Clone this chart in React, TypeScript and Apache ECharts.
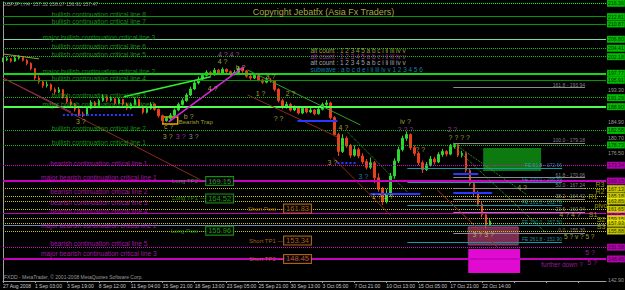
import React, { useEffect, useRef } from "react";
import * as echarts from "echarts";

const FONT = "'Liberation Sans', Arial, sans-serif";

// ---------- axis labels ----------
const dateLabels = [
  "27 Aug 2008", "1 Sep 03:00", "3 Sep 19:00", "8 Sep 12:00", "11 Sep 04:00", "15 Sep 21:00",
  "18 Sep 13:00", "23 Sep 05:00", "25 Sep 21:00", "30 Sep 13:00", "3 Oct 05:00", "7 Oct 21:00",
  "10 Oct 13:00", "15 Oct 05:00", "17 Oct 21:00", "22 Oct 14:00",
];
const yTickLabels = [
  142.9, 147.1, 151.3, 155.5, 159.7, 163.9, 168.1, 172.3, 176.5, 180.7, 184.9, 189.1,
  193.3, 197.5, 201.7, 205.9, 210.1, 214.3,
];

// ---------- price (8-hour candles) ----------
const firstOpen = 201.0;
const closes = [
  201.3, 201.6, 201.0, 201.8, 202.0, 201.2, 200.4, 199.0, 196.5, 195.5,
  194.5, 194.8, 193.5, 192.8, 193.4, 191.5, 190.2, 189.5, 188.2, 187.0,
  186.8, 188.5, 190.0, 189.2, 190.5, 191.5, 190.6, 191.0, 189.8, 190.8,
  189.6, 188.5, 189.5, 190.8, 189.0, 187.4, 188.4, 189.6, 188.2, 186.5,
  185.2, 185.8, 186.6, 188.0, 189.5, 190.5, 192.0, 193.6, 195.2, 196.2,
  197.2, 198.0, 197.4, 198.6, 197.8, 198.8, 198.2, 197.5, 198.0, 199.0,
  198.4, 197.0, 196.5, 197.2, 196.0, 195.4, 196.0, 195.8, 193.5, 190.5,
  188.8, 189.5, 188.0, 188.6, 187.2, 188.5, 187.5, 188.0, 187.0, 188.2,
  189.5, 189.9, 186.0, 181.5, 177.0, 180.5, 178.5, 176.0, 177.5, 175.8,
  174.3, 172.8, 174.0, 170.0, 167.0, 163.8, 165.5, 170.5, 174.5, 177.5,
  180.5, 181.5, 178.0, 176.5, 174.0, 172.2, 173.5, 175.0, 174.2, 176.2,
  177.0, 176.3, 178.3, 178.8, 176.0, 176.5, 172.0, 168.5, 166.0, 163.0,
  160.2, 157.5, 158.5,
];
const highs = [
  201.9, 202.2, 201.9, 202.3, 202.6, 202.2, 201.5, 200.7, 199.2, 197.2,
  196.0, 195.6, 195.1, 194.0, 194.1, 193.6, 192.0, 190.9, 189.8, 188.5,
  187.6, 189.0, 190.6, 190.4, 191.0, 192.2, 191.9, 191.6, 191.3, 191.3,
  191.0, 189.9, 190.0, 191.4, 191.0, 189.3, 188.9, 190.1, 189.8, 188.4,
  186.8, 186.4, 187.2, 188.4, 190.0, 191.1, 192.5, 194.2, 195.8, 196.9,
  197.8, 198.6, 198.4, 199.2, 198.9, 199.3, 199.1, 198.5, 198.6, 199.6,
  199.3, 198.6, 197.4, 197.7, 197.4, 196.3, 196.6, 196.5, 196.0, 193.8,
  191.0, 190.2, 189.9, 189.2, 188.9, 189.0, 188.8, 188.6, 188.3, 188.7,
  190.0, 190.7, 190.2, 186.4, 182.0, 181.6, 181.0, 179.0, 178.6, 178.0,
  176.5, 175.0, 175.4, 174.5, 171.2, 167.6, 167.0, 171.3, 175.2, 178.3,
  181.2, 182.3, 181.8, 178.6, 177.0, 174.6, 174.2, 175.8, 175.6, 176.8,
  177.7, 177.4, 179.0, 179.18, 179.0, 177.2, 176.8, 172.5, 169.2, 166.6,
  163.6, 160.8, 159.0,
];
const lows = [
  200.7, 201.0, 200.6, 200.8, 201.4, 200.9, 199.9, 198.6, 196.0, 195.0,
  193.9, 194.0, 193.0, 192.2, 192.5, 191.0, 189.7, 189.0, 187.6, 186.4,
  186.1, 186.5, 188.2, 188.7, 188.9, 190.2, 190.1, 190.2, 189.3, 189.5,
  189.2, 188.0, 188.2, 189.2, 188.6, 186.9, 187.1, 188.1, 187.8, 186.0,
  184.6, 184.9, 185.4, 186.3, 187.7, 189.2, 190.2, 191.7, 193.3, 194.8,
  195.9, 196.9, 196.9, 197.1, 197.3, 197.5, 197.7, 197.0, 197.2, 197.7,
  197.9, 196.6, 196.0, 196.2, 195.6, 194.9, 195.1, 195.3, 193.0, 190.0,
  188.2, 188.4, 187.6, 187.7, 186.8, 186.9, 187.1, 187.2, 186.6, 186.8,
  187.9, 189.1, 185.5, 181.0, 175.8, 176.6, 178.0, 175.3, 175.6, 175.2,
  173.7, 172.2, 172.3, 168.6, 166.3, 162.8, 163.2, 165.0, 169.8, 173.9,
  177.0, 179.8, 177.4, 175.8, 173.4, 171.3, 171.8, 173.0, 173.6, 173.9,
  175.6, 175.7, 176.0, 177.8, 175.5, 175.4, 171.4, 167.8, 165.2, 162.4,
  159.5, 156.6, 157.2,
];

// ---------- critical lines ----------
const bullishLevels = [216.36, 212.81, 210.87, 206.8, 204.41, 202.18, 197.77, 195.91, 191.29, 188.9, 182.58, 178.73];
const bullishNames = [
  "", "bullish continuation critical line 8", "bullish continuation critical line 7",
  "major bullish continuation critical line 3", "bullish continuation critical line 6",
  "bullish continuation critical line 5", "major bullish continuation critical line 2",
  "bullish continuation critical line 4", "bullish continuation critical line 3",
  "major bullish continuation critical line 1", "bullish continuation critical line 2",
  "bullish continuation critical line 1",
];
const bearishLevels = [173.34, 169.15, 160.54, 157.45, 151.58, 148.45];
const bearishTagLevels = [173.34, 169.15, 160.54, 151.58, 148.45];
const bearishNames = [
  "bearish continuation critical line 1", "major bearish continuation critical line 1",
  "bearish continuation critical line 2", "bearish continuation critical line 3",
  "bearish continuation critical line 4", "major bearish continuation critical line 2",
  "bearish continuation critical line 5", "major bearish continuation critical line 3",
];
const bearishLabelPrices = [173.87, 170.15, 166.32, 163.4, 160.93, 157.22, 152.62, 149.96];

const pivotNames = ["R3", "R2", "R1", "pivot", "S1", "S2", "S3"];
const pivotLevels = [167.13, 165.18, 163.85, 161.65, 159.15, 157.93, 155.88];

const longNames = ["Long TP2", "Long TP1", "Long Post"];
const longLevels = [169.15, 164.52, 155.96];
const shortNames = ["Short Post", "Short TP1", "Short TP2"];
const shortLevels = [161.83, 153.34, 148.45];

const fiboRatios = ["161.8", "100.0", "61.8", "50.0", "38.2", "23.6", "0.0"];
const fiboLevels = [193.94, 179.18, 170.06, 167.24, 164.42, 160.94, 155.3];
const feRatios = ["61.8", "100.0", "161.8", "200.0", "261.8"];
const feLevels = [172.66, 168.89, 162.78, 157.5, 152.9];

const legendRows = [
  "alt count : 1 2 3 4 5 a b c i ii iii iv v",
  "alt count : 1 2 3 4 5 a b c i ii iii iv v",
  "alt count : 1 2 3 4 5 a b c i ii iii iv v",
  "subwave : a b c d e i ii iii iv v 1 2 3 4 5 6",
];
const legendPrices = [203.69, 202.1, 200.5, 198.78];

// trend lines: [bar, price] endpoints
const trendLines = [
  [[0, 202.9], [9, 201.6]],
  [[0, 196.52], [17, 187.5]],
  [[0, 196.5], [49.5, 169.43]],
  [[41.5, 184.84], [60.25, 199.45]],
  [[30.25, 191.56], [52, 196.87]],
  [[61.25, 198.65], [89.5, 184.04]],
  [[61.25, 192.01], [83.75, 180.85]],
  [[82.75, 175.25], [97, 160.14]],
  [[86.25, 182.18], [101.25, 166.24]],
  [[112.75, 179.26], [131.25, 165.45]],
  [[113.25, 177.93], [135.75, 155.62]],
  [[108.75, 166.78], [123.75, 151.64]],
];
const blueLevels = [186.7, 185.1, 173.95, 165.72, 171.03, 166.17];
const blueSpans = [[15, 32.75], [73.75, 83.75], [83.75, 88.75], [92, 104.5], [112.75, 119], [112.75, 122.5]];

// wave count marks: [bar, price, text]
const waveMarks: [number, number, string][] = [
  [19.5, 184.84, "3 ?"], [41.5, 183.51, "c ?"], [46.5, 186.17, "b ?"], [55, 200.77, "4 ?"],
  [52.5, 193.6, "4 ?"], [59.5, 199.18, "b ?"], [67, 196.79, "a ?"], [64.5, 192.27, "1 ?"],
  [72, 192.51, "2 ?"], [69, 185.63, "? ?"], [85.25, 183.24, "4 ?"], [82.5, 173.95, "3 ?"],
  [95, 164.92, "1 ? 1 ?"], [100.75, 184.84, "iv ?"], [104.5, 177.6, "? ?"], [114.25, 180.59, "? ? ? ?"],
  [130, 167.32, "4 ?"], [142, 160.35, "4 ? 4 ?"], [120.25, 154.82, "3 ? 3 ?"],
];

const END = 151;

function buildOption() {
  const opens = [firstOpen, ...closes.slice(0, -1)];
  const candles = closes.map((c, i) => [i, opens[i], c, lows[i], highs[i]]);

  const segs: any[] = [];
  const seg = (a: number[], b: number[], color: string, width: number, type: any) =>
    segs.push({ coords: [a, b], lineStyle: { color, width, type, opacity: 1 } });
  const DOT = [1, 1];

  const bullStyle = ["top", "solid", "solid", "light", "dot", "dot", "major", "solid", "dot", "major1", "dot", "dot"];
  bullishLevels.forEach((v, i) => {
    const s = bullStyle[i];
    if (s === "top") seg([0, v], [END, v], "#00ff00", 1, DOT);
    else if (s === "solid") seg([0, v], [END, v], "#009a00", 1, "solid");
    else if (s === "light") seg([0, v], [END, v], "#7fd6aa", 1, "solid");
    else if (s === "major") seg([0, v], [END, v], "#14d814", 2, "solid");
    else if (s === "major1") seg([0, v], [END, v], "#4cff4c", 2, "solid");
    else seg([0, v], [END, v], "#10c010", 1, DOT);
  });
  pivotLevels.forEach((v) => seg([0, v], [END, v], "#c8c800", 1, DOT));
  const bearStyle = ["dot", "thick", "solid", "steel", "dot", "thick"];
  bearishLevels.forEach((v, i) => {
    const s = bearStyle[i];
    if (s === "dot") seg([0, v], [END, v], "#d010d0", 1, DOT);
    else if (s === "thick") seg([0, v], [END, v], "#c800c0", 2, "solid");
    else if (s === "steel") seg([0, v], [END, v], "#6f8aa8", 1, "solid");
    else seg([0, v], [END, v], "#c800c0", 1, "solid");
  });
  fiboLevels.forEach((v) => seg([112.75, v], [145.75, v], "#8c8c8c", 1, "solid"));
  feLevels.forEach((v) => seg([101.25, v], [140, v], "#1a9aa0", 1, "solid"));
  const trendColors = ["#a0a040", "#a030a0", "#8b2a1a", "#e020e0", "#30f030", "#30a030", "#8b2a1a", "#8b2a1a", "#30b030", "#30b030", "#30b030", "#a03020"];
  const trendTypes: any[] = ["solid", "solid", "solid", "solid", "solid", "solid", "solid", "solid", DOT, DOT, DOT, "solid"];
  trendLines.forEach((t, i) => seg(t[0], t[1], trendColors[i], i === 3 || i === 4 ? 1.5 : 1, trendTypes[i]));
  blueLevels.forEach((v, i) =>
    seg([blueSpans[i][0], v], [blueSpans[i][1], v], "#2838ff", 2, i === 0 || i === 2 ? [2, 2] : "solid")
  );

  const notes: any[] = [];
  const note = (x: number, y: number, text: string, color: string, size: number, extra: any = {}) =>
    notes.push({
      value: [x, y],
      label: {
        show: true, position: "inside", formatter: text, color, fontSize: size, fontFamily: FONT,
        align: "center", verticalAlign: "middle", ...extra,
      },
    });

  bullishNames.forEach((n, i) => { if (n) note(24, bullishLevels[i], n, "#22b422", 6.6, { offset: [0, -2] }); });
  bearishNames.forEach((n, i) => note(24, bearishLabelPrices[i], n, "#c81ec8", 6.6));
  legendRows.forEach((r, i) =>
    note(77, legendPrices[i], r, ["#c8c850", "#c83cc8", "#d0d0d0", "#1f9fd8"][i], 6.4, { align: "left", lineHeight: 6 })
  );
  note(80.25, 214.05, "Copyright Jebatfx (Asia Fx Traders)", "#d6d650", 9);
  note(0, 216.3, "GBPJPY,H4  157.32 158.07 156.91 157.47", "#c0c0c0", 5, { align: "left" });
  note(0.25, 143.75, "FXDD - MetaTrader, \u00a9 2001-2008 MetaQuotes Software Corp.", "#c0c0c0", 5, { align: "left" });

  longNames.forEach((n, i) => {
    note(50.75, longLevels[i], n + " \u2014", "#20b020", 6, { align: "right" });
    note(54.25, longLevels[i], longLevels[i].toFixed(2), "#20c020", 7.5, {
      borderColor: "#20b020", borderWidth: 1, padding: [0, 2], backgroundColor: "#000",
    });
  });
  shortNames.forEach((n, i) => {
    note(70.25, shortLevels[i], n + " \u2014", "#d27a22", 6, { align: "right" });
    note(73.75, shortLevels[i], shortLevels[i].toFixed(2), "#d27a22", 7.5, {
      borderColor: "#d27a22", borderWidth: 1, padding: [0, 2], backgroundColor: "#000",
    });
  });
  fiboRatios.forEach((r, i) =>
    note(145.75, fiboLevels[i], r + " - " + fiboLevels[i].toFixed(2), "#a8a8a8", 5, { align: "right", offset: [0, -3] })
  );
  feRatios.forEach((r, i) =>
    note(140, feLevels[i], "FE " + r + " - " + feLevels[i].toFixed(2), "#25b0c8", 5, { align: "right", offset: [0, -3] })
  );
  const pivX = [149.5, 149.5, 147.75, 150, 147.75, 149.75, 149.75];
  pivotNames.forEach((n, i) => note(pivX[i], pivotLevels[i], n, "#c8c800", 7, { offset: [0, -4] }));

  waveMarks.forEach(([x, y, t]) => note(x, y, t, "#c8c84a", 7));
  note(140.5, 154.37, "5 ? v ? 5 ?", "#c8c84a", 6.5, { align: "left" });
  note(41.25, 180.85, "3 ?", "#c8c84a", 7);
  note(44.5, 180.85, "3 ?", "#c040c0", 7);
  note(47.75, 180.85, "3 ?", "#b0b0b0", 7);
  note(56.5, 202.63, "4 ? 4 ?", "#c060c0", 7);
  note(90.25, 170.23, "3 ?", "#1f9fd8", 7);
  note(100.75, 182.71, "? ? ?", "#c040c0", 7);
  note(112.5, 182.71, "2 ?", "#c040c0", 7);
  note(44, 184.84, "Bearish Trap", "#c8c84a", 6, { align: "left" });
  note(147, 150.05, "5 ?", "#c020c0", 7);
  note(147.5, 147.47, "5 ?", "#c020c0", 7);
  note(140, 146.86, "further down ?", "#c020c0", 6.5);

  const tagLevels = [...bullishLevels, ...bearishTagLevels, ...pivotLevels];
  // price scale labels that sit under a coloured price tag are covered, as in the terminal
  const grayTicks = yTickLabels
    .filter((v) => v < 143.5 || tagLevels.every((t) => Math.abs(t - v) > 1.7))
    .map((v) => ({
      value: [END, v],
      label: { show: true, position: "right", distance: 2, formatter: v.toFixed(2), color: "#c0c0c0", fontSize: 5.2, fontFamily: FONT },
    }));
  const tag = (v: number, bg: string) => ({
    value: [END, v],
    label: {
      show: true, position: "right", distance: 1, formatter: v.toFixed(2), color: "#000",
      backgroundColor: bg, padding: [1, 1], fontSize: 5.2, lineHeight: 5, fontFamily: FONT,
    },
  });
  const tags = [
    ...bullishLevels.map((v) => tag(v, "#00e800")),
    ...bearishTagLevels.map((v) => tag(v, "#e000d8")),
    ...pivotLevels.map((v) => tag(v, "#f4f400")),
  ];

  const area = (a: number[], b: number[], itemStyle: any) => [{ coord: a, itemStyle }, { coord: b }];

  return {
    animation: false,
    backgroundColor: "#000",
    grid: { left: 2, right: 19, top: 2, bottom: 9 },
    xAxis: {
      type: "value", min: 0, max: END, interval: 8,
      axisLine: { lineStyle: { color: "#a0a0a0" } },
      axisTick: { show: true, length: 2, lineStyle: { color: "#a0a0a0" } },
      splitLine: { show: false },
      axisLabel: {
        formatter: (v: number) => (v % 8 === 0 ? dateLabels[v / 8] || "" : ""),
        color: "#c8c8c8", fontSize: 5, fontFamily: FONT, align: "left", margin: 2, showMaxLabel: false,
      },
    },
    yAxis: {
      type: "value", position: "right", min: 142.6, max: 216.7,
      axisLine: { show: true, lineStyle: { color: "#a0a0a0" } },
      axisTick: { show: false }, axisLabel: { show: false }, splitLine: { show: false },
    },
    series: [
      {
        type: "candlestick",
        data: candles,
        encode: { x: 0, y: [1, 2, 3, 4] },
        barWidth: 2,
        z: 2,
        itemStyle: { color: "#2fd62f", color0: "#e8401c", borderColor: "#2fd62f", borderColor0: "#e8401c", borderWidth: 1 },
        markArea: {
          silent: true,
          data: [
            area([120.25, 177.93], [134.75, 171.82], { color: "#0d7a10" }),
            area([116.5, 156.95], [129, 152.17], { color: "#7a2d52", borderColor: "#a04070", borderWidth: 1 }),
            area([116.5, 151.11], [129.5, 144.74], { color: "#e00ad0" }),
            area([40, 186.15], [43.75, 184.29], { color: "rgba(0,0,0,0)", borderColor: "#e8a800", borderWidth: 1.5 }),
          ],
        },
      },
      {
        type: "lines", coordinateSystem: "cartesian2d", polyline: false, silent: true, z: 3,
        symbol: "none", data: segs,
      },
      {
        type: "scatter", symbolSize: 0, itemStyle: { color: "rgba(0,0,0,0)" }, silent: true, z: 4,
        data: notes,
      },
      {
        type: "scatter", symbolSize: 0, itemStyle: { color: "rgba(0,0,0,0)" }, silent: true, z: 5, clip: false,
        data: grayTicks,
      },
      {
        type: "scatter", symbolSize: 0, itemStyle: { color: "rgba(0,0,0,0)" }, silent: true, z: 6, clip: false,
        data: tags,
      },
    ],
  };
}

export default function App() {
  const ref = useRef<HTMLDivElement>(null);
  useEffect(() => {
    document.body.style.margin = "0";
    document.body.style.background = "#000";
    const chart = echarts.init(ref.current!, undefined, { renderer: "svg" });
    chart.setOption(buildOption() as any);
    return () => chart.dispose();
  }, []);
  return <div ref={ref} style={{ width: 625, height: 290, background: "#000" }} />;
}
